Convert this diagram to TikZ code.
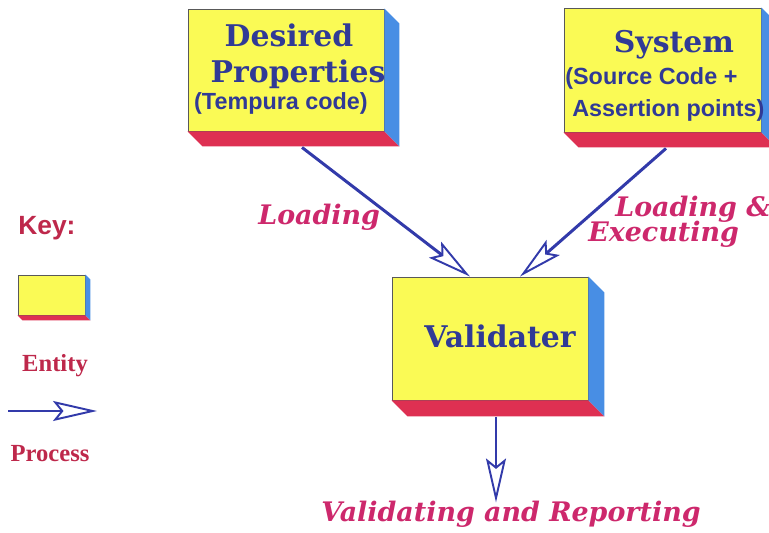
\documentclass[tikz,border=0pt]{standalone}
\usepackage{fontspec}
\setmainfont{DejaVu Serif}
\setsansfont{Liberation Sans}
\newfontfamily\keyfont{Liberation Serif}
\usetikzlibrary{
	arrows.meta,
	calc,
	positioning,
}
\definecolor{boxyellow}{RGB}{250,250,85}
\definecolor{boxred}{RGB}{222,48,82}
\definecolor{boxblue}{RGB}{72,142,228}
\definecolor{textblue}{RGB}{48,58,150}
\definecolor{labelpink}{RGB}{205,40,108}
\definecolor{keyred}{RGB}{190,40,75}
\definecolor{lineblue}{RGB}{50,58,170}
\tikzset{entity/.style={draw=gray!70!black,fill=boxyellow,line width=0.5pt,inner sep=0pt}}
\tikzset{title/.style={font=\bfseries\fontsize{17}{19}\selectfont,text=textblue,inner sep=0pt}}
\tikzset{sub/.style={font=\sffamily\bfseries\fontsize{13.3}{15}\selectfont,text=textblue,inner sep=0pt}}
\tikzset{process label/.style={font=\bfseries\itshape\fontsize{15.3}{17}\selectfont,text=labelpink,inner sep=0pt}}
\tikzset{key label/.style={text=keyred,inner sep=0pt}}
\tikzset{flow/.style={lineblue,line width=1.7pt,-{Stealth[open,length=8.8mm,width=4mm,inset=1.6mm,line width=1.1pt]}}}
% yellow front face gets a red floor and a blue side
\newcommand\extrude[2]{%
	\fill[boxred] (#1.south west) -- (#1.south east) -- ++(#2,-#2) -- ($(#1.south west)+(#2,-#2)$) -- cycle;
	\fill[boxblue] (#1.north east) -- ++(#2,-#2) -- ($(#1.south east)+(#2,-#2)$) -- (#1.south east) -- cycle;
}

\begin{document}
\begin{tikzpicture}
\useasboundingbox (0,0) rectangle (15.38,-10.66);

% entities
\node[entity,minimum width=3.92cm,minimum height=2.44cm](dp) at(5.72,-1.40) {};
\extrude{dp}{0.3}
\node[entity,minimum width=3.94cm,minimum height=2.48cm](sys) at(13.25,-1.40) {};
\extrude{sys}{0.3}
\node[entity,minimum width=3.92cm,minimum height=2.46cm](val) at(9.80,-6.77) {};
\extrude{val}{0.32}

\node[title,anchor=base](dp1) at(5.78,-0.94) {Desired};
\node[title,anchor=base](dp2) at(5.96,-1.66) {Properties};
\node[sub,anchor=base](dp3) at(5.62,-2.20) {(Tempura code)};

\node[title,anchor=base](sys1) at(13.48,-1.06) {System};
\node[sub,anchor=base west](sys2) at(11.30,-1.70) {(Source Code +};
\node[sub,anchor=base west](sys3) at(11.44,-2.34) {Assertion points)};

\node[title,anchor=base](val1) at(10.00,-6.96) {Validater};

% processes
\draw[flow] ($(dp.south)+(0.32,-0.32)$) -- ([xshift=-4mm]val.north);
\draw[flow] ($(sys.south)+(0.07,-0.32)$) -- ([xshift=6mm]val.north);
\draw[flow] ($(val.south)+(0.12,-0.34)$) -- ++(0,-1.70);

\node[process label,anchor=base west](load) at(5.16,-4.50) {Loading};
\node[process label,anchor=base west](loadex1) at(12.30,-4.34) {Loading \&};
\node[process label,anchor=base west](loadex2) at(11.76,-4.84) {Executing};
\node[process label,anchor=base](report) at(10.22,-10.44) {Validating and Reporting};

% key
\node[key label,anchor=base west,font=\sffamily\bfseries\fontsize{15}{17}\selectfont](key) at(0.36,-4.70) {Key:};
\node[entity,minimum width=1.34cm,minimum height=0.8cm](keybox) at(1.03,-5.90) {};
\extrude{keybox}{0.1}
\node[key label,anchor=base,font=\keyfont\bfseries\fontsize{14}{16}\selectfont](ent) at(1.10,-7.44) {Entity};
\coordinate(ka) at(0.16,-8.22);
\coordinate(kb) at(1.94,-8.22);
\draw[flow] (ka) -- (kb);
\node[key label,anchor=base,font=\keyfont\bfseries\fontsize{14}{16}\selectfont](proc) at(1.00,-9.24) {Process};

\end{tikzpicture}
\end{document}
